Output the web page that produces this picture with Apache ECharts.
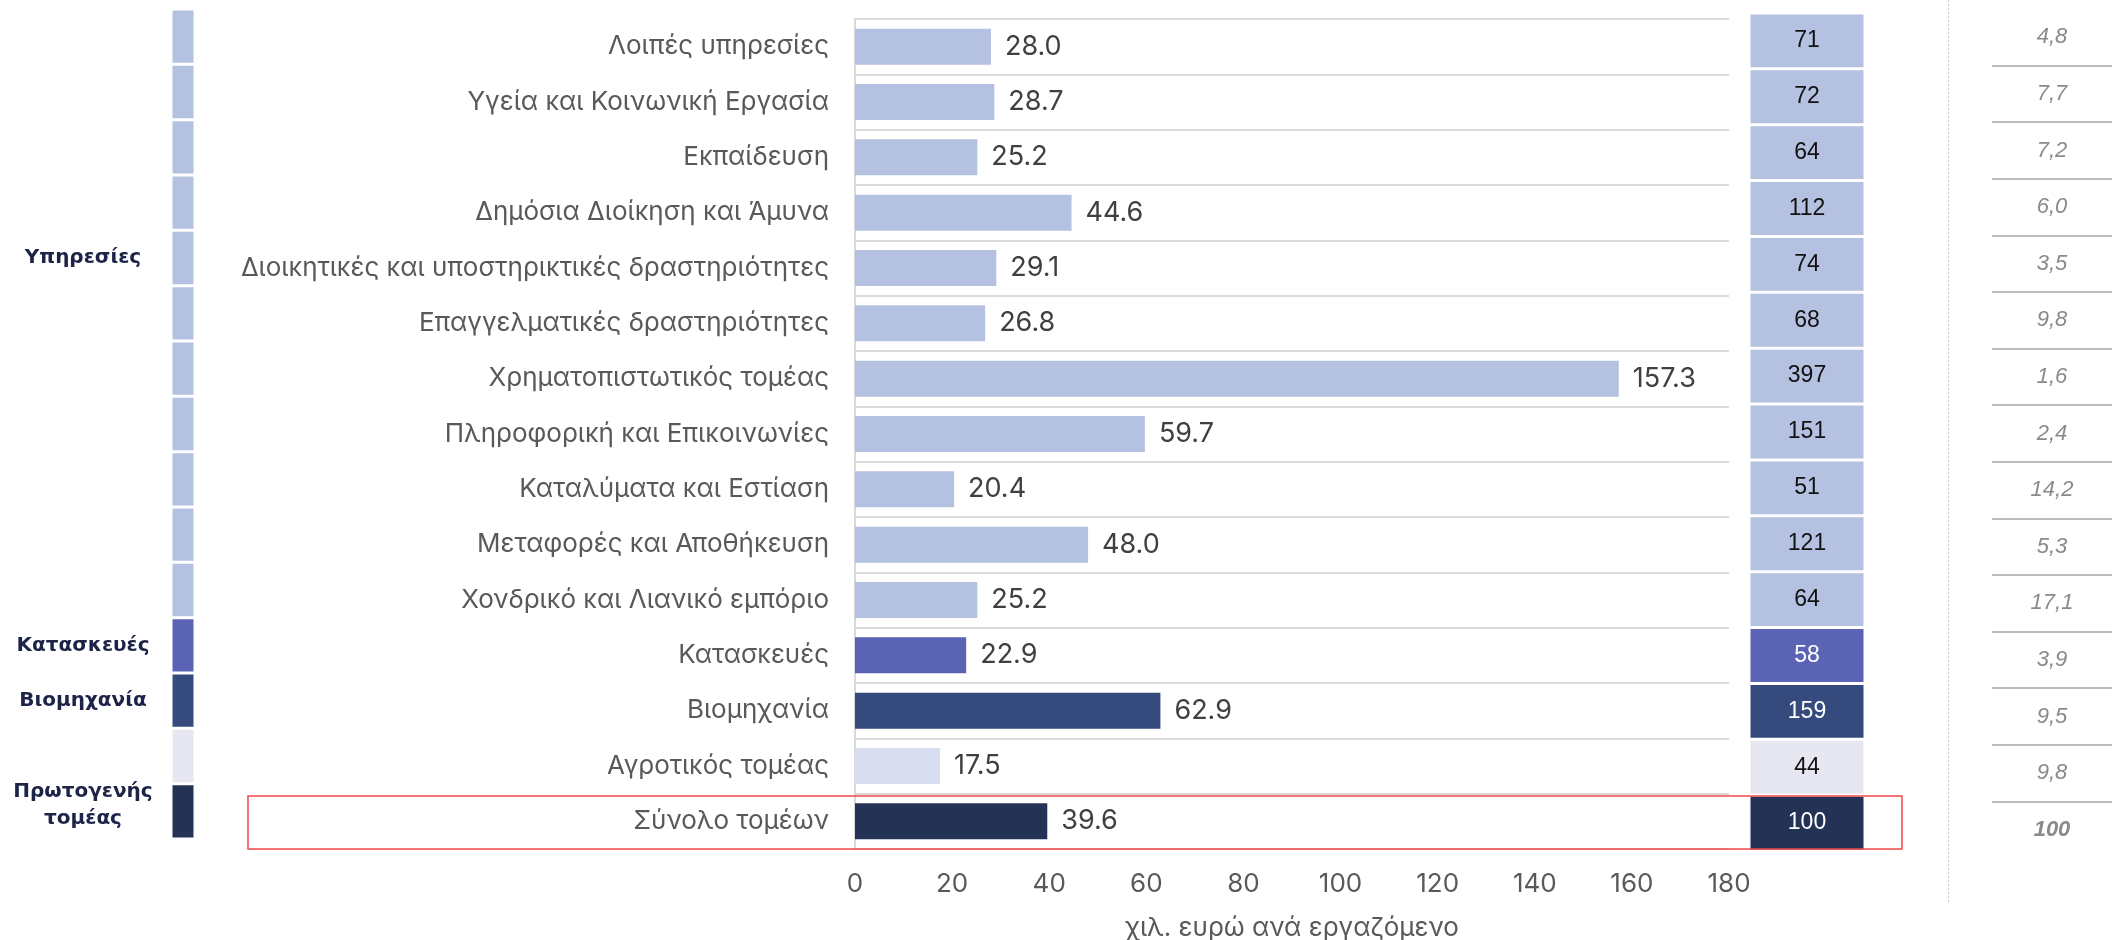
<!DOCTYPE html>
<html>
<head>
<meta charset="utf-8">
<script src="https://cdn.jsdelivr.net/npm/echarts@6/dist/echarts.min.js"></script>
<style>html,body{margin:0;padding:0;background:#fff}#c{width:2112px;height:940px}</style>
</head>
<body>
<div id="c"></div>
<script>
const categories = [
  'Λοιπές υπηρεσίες',
  'Υγεία και Κοινωνική Εργασία',
  'Εκπαίδευση',
  'Δημόσια Διοίκηση και Άμυνα',
  'Διοικητικές και υποστηρικτικές δραστηριότητες',
  'Επαγγελματικές δραστηριότητες',
  'Χρηματοπιστωτικός τομέας',
  'Πληροφορική και Επικοινωνίες',
  'Καταλύματα και Εστίαση',
  'Μεταφορές και Αποθήκευση',
  'Χονδρικό και Λιανικό εμπόριο',
  'Κατασκευές',
  'Βιομηχανία',
  'Αγροτικός τομέας',
  'Σύνολο τομέων'
];
const productivity = [28.0, 28.7, 25.2, 44.6, 29.1, 26.8, 157.3, 59.7, 20.4, 48.0, 25.2, 22.9, 62.9, 17.5, 39.6];
const indexValues = [71, 72, 64, 112, 74, 68, 397, 151, 51, 121, 64, 58, 159, 44, 100];
const shares = [4.8, 7.7, 7.2, 6.0, 3.5, 9.8, 1.6, 2.4, 14.2, 5.3, 17.1, 3.9, 9.5, 9.8, 100];
const groups = ['s','s','s','s','s','s','s','s','s','s','s','c','i','p','t'];
const groupLabels = ['', '', '', '', 'Υπηρεσίες', '', '', '', '', '', '', 'Κατασκευές', 'Βιομηχανία', '', 'Πρωτογενής\nτομέας'];
const xTicks = {min: 0, max: 180, interval: 20};
const xName = 'χιλ. ευρώ ανά εργαζόμενο';

const stripColor = {s:'#b4c1e0', c:'#5b63b5', i:'#354b7e', p:'#e6e7f0', t:'#243256'};
const barColor   = {s:'#b4c1e0', c:'#5b63b5', i:'#354b7e', p:'#d8ddef', t:'#243256'};
const idxText    = {s:'#111', c:'#fff', i:'#fff', p:'#111', t:'#fff'};

const chart = echarts.init(document.getElementById('c'), null, {renderer:'canvas'});
const ones = categories.map(() => 1);
const hiddenCat = (gi) => ({type:'category', gridIndex:gi, data:categories, inverse:true, show:false});
const hiddenVal = (gi) => ({type:'value', gridIndex:gi, min:0, max:1, show:false});

chart.setOption({
  animation: false,
  backgroundColor: '#fff',
  grid: [
    {left:171, width:24, top:9, bottom:101, outerBoundsMode:'none', containLabel:false},
    {left:855, width:874, top:19, bottom:91, outerBoundsMode:'none', containLabel:false},
    {left:1749, width:116, top:13, bottom:89, outerBoundsMode:'none', containLabel:false},
    {left:1992, width:120, top:9, bottom:82, outerBoundsMode:'none', containLabel:false}
  ],
  xAxis: [
    hiddenVal(0),
    {type:'value', gridIndex:1, min:xTicks.min, max:xTicks.max, interval:xTicks.interval,
     axisLine:{show:false}, axisTick:{show:false}, splitLine:{show:false},
     axisLabel:{fontFamily:'Inter', fontSize:26, color:'#595959', margin:22},
     name:xName, nameLocation:'middle', nameGap:66,
     nameTextStyle:{fontFamily:'Inter', fontSize:26, color:'#595959'}},
    hiddenVal(2),
    hiddenVal(3)
  ],
  yAxis: [
    {type:'category', gridIndex:0, data:categories, inverse:true,
     axisLine:{show:false}, axisTick:{show:false},
     axisLabel:{interval:0, margin:88, align:'center',
       formatter:(v, i) => {
         const t = groupLabels[i];
         if (!t) return '';
         return t.split('\n').map(s => '{a|' + s + '}').join('\n') + (t.indexOf('\n') >= 0 ? '\n{b|}' : '');
       },
       rich:{
         a:{fontFamily:'DejaVu Sans', fontWeight:'bold', fontSize:20, lineHeight:27, color:'#1e2448'},
         b:{fontSize:6, lineHeight:12}
       }}},
    {type:'category', gridIndex:1, data:categories, inverse:true,
     axisLine:{show:true, lineStyle:{color:'#d9d9d9', width:2}}, axisTick:{show:false},
     splitLine:{show:true, interval:0, lineStyle:{color:'#d9d9d9', width:2}},
     axisLabel:{interval:0, margin:26, fontFamily:'Inter', fontSize:26, color:'#595959'}},
    hiddenCat(2),
    {type:'category', gridIndex:3, data:categories, inverse:true,
     axisLine:{show:false}, axisTick:{show:false}, axisLabel:{show:false},
     splitLine:{show:true, interval:0, showMinLine:false, showMaxLine:false,
       lineStyle:{color:'#a6a6a6', width:1.5}}}
  ],
  series: [
    {type:'bar', xAxisIndex:0, yAxisIndex:0, barCategoryGap:0,
     data: ones.map((v, i) => ({value:v, itemStyle:{color:stripColor[groups[i]]}})),
     itemStyle:{borderColor:'#fff', borderWidth:1.5}},
    {type:'bar', xAxisIndex:1, yAxisIndex:1, barWidth:36,
     data: productivity.map((v, i) => ({value:v, itemStyle:{color:barColor[groups[i]]}})),
     label:{show:true, position:'right', distance:14, fontFamily:'Inter', fontSize:27, color:'#404040',
       formatter:(p) => p.value.toFixed(1)}},
    {type:'bar', xAxisIndex:2, yAxisIndex:2, barCategoryGap:0,
     data: ones.map((v, i) => ({value:v, itemStyle:{color:stripColor[groups[i]]},
       label:{color:idxText[groups[i]]}})),
     itemStyle:{borderColor:'#fff', borderWidth:1.5},
     label:{show:true, position:'inside', fontFamily:'Liberation Sans', fontSize:23,
       formatter:(p) => String(indexValues[p.dataIndex])}},
    {type:'bar', xAxisIndex:3, yAxisIndex:3, barCategoryGap:0,
     data: ones.map((v, i) => ({value:v, label:{fontWeight: groups[i]==='t' ? 'bold' : 'normal'}})),
     itemStyle:{color:'rgba(0,0,0,0)'},
     label:{show:true, position:'inside', fontFamily:'Liberation Sans', fontStyle:'italic', fontSize:22, color:'#8a8a8a',
       formatter:(p) => { const v = shares[p.dataIndex]; return v === 100 ? '100' : v.toFixed(1).replace('.', ','); }}}
  ],
  graphic: [
    {type:'line', shape:{x1:1948.5, y1:0, x2:1948.5, y2:902}, style:{stroke:'#c8c8c8', lineWidth:1, lineDash:[2,2]}, silent:true},
    {type:'rect', shape:{x:248, y:796, width:1654, height:53}, style:{fill:'none', stroke:'#f04848', lineWidth:1.5}, silent:true, z:100}
  ]
});
</script>
</body>
</html>
